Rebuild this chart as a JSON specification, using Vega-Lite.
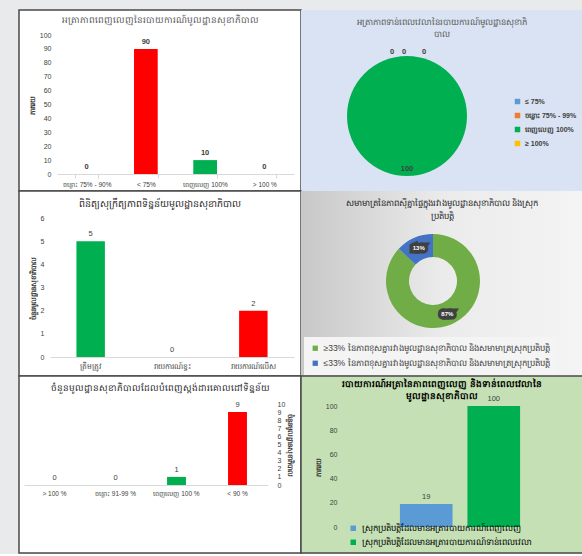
{
  "$schema": "https://vega.github.io/schema/vega-lite/v6.json",
  "background": "#e8eaec",
  "padding": {"left": 18, "top": 9, "right": 0, "bottom": 0},
  "autosize": {"type": "pad"},
  "config": {
    "view": {"stroke": "#4a4a4a", "strokeWidth": 1.5},
    "font": "Liberation Sans",
    "axis": {"labelFont": "Liberation Sans", "titleFont": "Liberation Sans", "labelColor": "#404040", "titleColor": "#404040", "grid": false, "labelFontSize": 7, "titleFontSize": 7},
    "title": {"font": "Liberation Sans", "anchor": "middle"},
    "legend": {"labelFont": "Liberation Sans"},
    "text": {"font": "Liberation Sans"}
  },
  "spacing": 0,
  "bounds": "flush",
  "columns": 2,
  "resolve": {"scale": {"color": "independent", "x": "independent", "y": "independent", "theta": "independent"}, "legend": {"color": "independent"}},
  "concat": [
        {
          "width": 282,
          "height": 181,
          "view": {"fill": "#ffffff"},
          "title": {"text": "អត្រាភាពពេញលេញនៃរបាយការណ៍មូលដ្ឋានសុខាភិបាល", "fontSize": 9, "fontWeight": "normal", "color": "#595959", "offset": -15},
          "data": {"values": [
            {"category": "ចន្លោះ 75% - 90%", "value": 0},
            {"category": "< 75%", "value": 90},
            {"category": "ពេញលេញ 100%", "value": 10},
            {"category": "> 100 %", "value": 0}
          ]},
          "encoding": {
            "x": {"field": "category", "type": "nominal", "sort": null,
              "scale": {"range": [38, 275], "paddingInner": 0.6, "paddingOuter": 0.3},
              "axis": {"title": null, "offset": -17, "labelAngle": 0, "domainColor": "#d9d9d9", "tickBand": "extent", "tickColor": "#d9d9d9", "tickSize": 4, "labelPadding": 3, "labelFontSize": 6.5}},
            "y": {"field": "value", "type": "quantitative",
              "scale": {"domain": [0, 100], "range": [164, 25]},
              "axis": {"title": "ភាគរយ", "offset": -38, "domain": false, "ticks": false, "labelPadding": 6, "tickCount": 10, "titlePadding": 4, "titleFontWeight": "bold"}}
          },
          "layer": [
            {"mark": {"type": "bar"},
             "encoding": {"color": {"field": "category", "type": "nominal",
               "scale": {"domain": ["ចន្លោះ 75% - 90%", "< 75%", "ពេញលេញ 100%", "> 100 %"], "range": ["#a5a5a5", "#ff0000", "#00b050", "#a5a5a5"]}, "legend": null}}},
            {"mark": {"type": "text", "dy": -7, "fontSize": 7.5, "fontWeight": "bold", "color": "#404040"},
             "encoding": {"text": {"field": "value", "type": "quantitative"}}}
          ]
        },
        {
          "width": 282,
          "height": 181,
          "view": {"fill": "#dae3f3"},
          "title": {"text": ["អត្រាភាពទាន់ពេលវេលានៃរបាយការណ៍មូលដ្ឋានសុខាភិ", "បាល"], "fontSize": 8.5, "fontWeight": "normal", "color": "#595959", "offset": -28, "lineHeight": 12},
          "data": {"values": [
            {"category": "≤ 75%", "value": 0},
            {"category": "ចន្លោះ 75% - 99%", "value": 0},
            {"category": "ពេញលេញ 100%", "value": 100},
            {"category": "≥ 100%", "value": 0}
          ]},
          "layer": [
            {"mark": {"type": "arc", "outerRadius": 60, "x": 106, "y": 106},
             "encoding": {
               "theta": {"field": "value", "type": "quantitative", "stack": true},
               "color": {"field": "category", "type": "nominal", "sort": null,
                 "scale": {"domain": ["≤ 75%", "ចន្លោះ 75% - 99%", "ពេញលេញ 100%", "≥ 100%"], "range": ["#5b9bd5", "#ed7d31", "#00b050", "#ffc000"]},
                 "legend": {"orient": "none", "legendX": 213, "legendY": 88, "title": null, "symbolType": "square", "symbolSize": 30, "labelFontSize": 7, "rowPadding": 6, "labelColor": "#404040", "labelFontWeight": "bold"}}
             }},
            {"transform": [{"filter": "datum.value > 0"}],
             "mark": {"type": "text", "x": 106, "y": 106, "radius": 53, "fontSize": 7.5, "fontWeight": "bold", "color": "#404040"},
             "encoding": {"theta": {"field": "value", "type": "quantitative", "stack": true}, "text": {"field": "value", "type": "quantitative"}}},
            {"transform": [{"filter": "datum.category === '≤ 75%'"}],
             "mark": {"type": "text", "x": 106, "y": 106, "radius": 64, "theta": 0, "dx": -15, "fontSize": 7.5, "fontWeight": "bold", "color": "#404040"},
             "encoding": {"text": {"field": "value", "type": "quantitative"}}},
            {"transform": [{"filter": "datum.category === 'ចន្លោះ 75% - 99%'"}],
             "mark": {"type": "text", "x": 106, "y": 106, "radius": 64, "theta": 0, "dx": -3, "fontSize": 7.5, "fontWeight": "bold", "color": "#404040"},
             "encoding": {"text": {"field": "value", "type": "quantitative"}}},
            {"transform": [{"filter": "datum.category === '≥ 100%'"}],
             "mark": {"type": "text", "x": 106, "y": 106, "radius": 64, "theta": 0, "dx": 17, "fontSize": 7.5, "fontWeight": "bold", "color": "#404040"},
             "encoding": {"text": {"field": "value", "type": "quantitative"}}}
          ]
        },
        {
          "width": 282,
          "height": 185,
          "view": {"fill": "#ffffff"},
          "title": {"text": "ពិនិត្យសុក្រឹត្យភាពទិន្នន័យមូលដ្ឋានសុខាភិបាល", "fontSize": 9.5, "fontWeight": "normal", "color": "#262626", "offset": -17},
          "data": {"values": [
            {"category": "ត្រឹមត្រូវ", "value": 5},
            {"category": "រាយការណ៍ខ្វះ", "value": 0},
            {"category": "រាយការណ៍លើស", "value": 2}
          ]},
          "encoding": {
            "x": {"field": "category", "type": "nominal", "sort": null,
              "scale": {"range": [31, 275], "paddingInner": 0.65, "paddingOuter": 0.325},
              "axis": {"title": null, "offset": -19, "labelAngle": 0, "domainColor": "#d9d9d9", "ticks": false, "labelPadding": 5, "labelFontSize": 7.5}},
            "y": {"field": "value", "type": "quantitative",
              "scale": {"domain": [0, 6], "range": [166, 27]},
              "axis": {"title": "ចំនួនមូលដ្ឋានសុខាភិបាល", "offset": -31, "domain": false, "ticks": false, "labelPadding": 6, "tickCount": 6, "titlePadding": 4, "titleFontWeight": "bold"}}
          },
          "layer": [
            {"mark": {"type": "bar"},
             "encoding": {"color": {"field": "category", "type": "nominal",
               "scale": {"domain": ["ត្រឹមត្រូវ", "រាយការណ៍ខ្វះ", "រាយការណ៍លើស"], "range": ["#00b050", "#a5a5a5", "#ff0000"]}, "legend": null}}},
            {"mark": {"type": "text", "dy": -7, "fontSize": 7.5, "color": "#404040"},
             "encoding": {"text": {"field": "value", "type": "quantitative"}}}
          ]
        },
        {
          "width": 282,
          "height": 185,
          "title": {"text": ["សមាមាត្រនៃភាពស៊ីគ្នាផ្ទៃក្នុងរវាងមូលដ្ឋានសុខាភិបាល និងស្រុក", "ប្រតិបត្តិ"], "fontSize": 8.5, "fontWeight": "normal", "color": "#262626", "offset": -29, "lineHeight": 13},
          "data": {"values": [
            {"category": "≥33% នៃភាពខុសគ្នារវាងមូលដ្ឋានសុខាភិបាល និងសមាមាត្រស្រុកប្រតិបត្តិ", "value": 0.87},
            {"category": "≤33% នៃភាពខុសគ្នារវាងមូលដ្ឋានសុខាភិបាល និងសមាមាត្រស្រុកប្រតិបត្តិ", "value": 0.13}
          ]},
          "layer": [
            {"mark": {"type": "rect", "color": {"gradient": "linear", "x1": 0, "x2": 1, "y1": 0, "y2": 0, "stops": [{"offset": 0, "color": "#c8c8c8"}, {"offset": 0.5, "color": "#ebebeb"}, {"offset": 1, "color": "#f4f4f4"}]}},
             "encoding": {}},
            {"mark": {"type": "arc", "outerRadius": 47, "innerRadius": 24, "x": 132, "y": 90},
             "encoding": {
               "theta": {"field": "value", "type": "quantitative", "stack": true},
               "order": {"field": "value", "sort": "descending"},
               "color": {"field": "category", "type": "nominal", "sort": null,
                 "scale": {"domain": ["≥33% នៃភាពខុសគ្នារវាងមូលដ្ឋានសុខាភិបាល និងសមាមាត្រស្រុកប្រតិបត្តិ", "≤33% នៃភាពខុសគ្នារវាងមូលដ្ឋានសុខាភិបាល និងសមាមាត្រស្រុកប្រតិបត្តិ"], "range": ["#70ad47", "#4472c4"]},
                 "legend": {"orient": "none", "legendX": 3, "legendY": 146, "title": null, "symbolType": "square", "symbolSize": 28, "labelFontSize": 8.5, "labelLimit": 320, "rowPadding": 6, "padding": 7, "fillColor": "#f4f4f4", "labelColor": "#404040"}}
             }},
            {"mark": {"type": "text", "x": 132, "y": 90, "radius": 36, "fontSize": 6, "fontWeight": "bold", "color": "#404040", "stroke": "#404040", "strokeWidth": 7, "strokeJoin": "miter"},
             "encoding": {
               "theta": {"field": "value", "type": "quantitative", "stack": true},
               "order": {"field": "value", "sort": "descending"},
               "text": {"field": "value", "type": "quantitative", "format": ".0%"}}},
            {"mark": {"type": "text", "x": 132, "y": 90, "radius": 36, "fontSize": 6, "fontWeight": "bold", "color": "#ffffff"},
             "encoding": {
               "theta": {"field": "value", "type": "quantitative", "stack": true},
               "order": {"field": "value", "sort": "descending"},
               "text": {"field": "value", "type": "quantitative", "format": ".0%"}}}
          ]
        },
        {
          "width": 282,
          "height": 177,
          "view": {"fill": "#ffffff"},
          "title": {"text": "ចំនួនមូលដ្ឋានសុខាភិបាលដែលបំពេញស្តង់ដារគោលដៅទិន្នន័យ", "fontSize": 9, "fontWeight": "normal", "color": "#262626", "offset": -17},
          "data": {"values": [
            {"category": "> 100 %", "value": 0},
            {"category": "ចន្លោះ 91-99 %", "value": 0},
            {"category": "ពេញលេញ 100 %", "value": 1},
            {"category": "< 90 %", "value": 9}
          ]},
          "encoding": {
            "x": {"field": "category", "type": "nominal", "sort": null,
              "scale": {"range": [5, 249], "paddingInner": 0.69, "paddingOuter": 0.345},
              "axis": {"title": null, "offset": -68, "labelAngle": 0, "domainColor": "#d9d9d9", "ticks": false, "labelPadding": 5, "labelFontSize": 6.5}},
            "y": {"field": "value", "type": "quantitative",
              "scale": {"domain": [0, 10], "range": [109, 28]},
              "axis": {"orient": "right", "title": "ចំនួនមូលដ្ឋានសុខាភិបាល", "offset": -27, "domain": false, "ticks": false, "labelPadding": 3, "tickCount": 10, "titlePadding": 2, "titleFontWeight": "bold", "labelFontSize": 7}}
          },
          "layer": [
            {"mark": {"type": "bar"},
             "encoding": {"color": {"field": "category", "type": "nominal",
               "scale": {"domain": ["> 100 %", "ចន្លោះ 91-99 %", "ពេញលេញ 100 %", "< 90 %"], "range": ["#a5a5a5", "#a5a5a5", "#00b050", "#ff0000"]}, "legend": null}}},
            {"mark": {"type": "text", "dy": -7, "fontSize": 7.5, "color": "#404040"},
             "encoding": {"text": {"field": "value", "type": "quantitative"}}}
          ]
        },
        {
          "width": 282,
          "height": 177,
          "view": {"fill": "#c5e0b4"},
          "title": {"text": ["របាយការណ៍អត្រានៃភាពពេញលេញ និងទាន់ពេលវេលានៃ", "មូលដ្ឋានសុខាភិបាល"], "fontSize": 9, "fontWeight": "bold", "color": "#000000", "offset": -25, "lineHeight": 12},
          "data": {"values": [
            {"series": "ស្រុកប្រតិបត្តិដែលមានអត្រារបាយការណ៍ពេញលេញ", "value": 19},
            {"series": "ស្រុកប្រតិបត្តិដែលមានអត្រារបាយការណ៍ទាន់ពេលវេលា", "value": 100}
          ]},
          "encoding": {
            "x": {"field": "series", "type": "nominal", "sort": null,
              "scale": {"range": [91.5, 226.5], "paddingInner": 0.22, "paddingOuter": 0.11},
              "axis": null},
            "y": {"field": "value", "type": "quantitative",
              "scale": {"domain": [0, 100], "range": [151, 30]},
              "axis": {"title": "ភាគរយ", "offset": -42, "domain": false, "ticks": false, "labelPadding": 6, "values": [0, 20, 40, 60, 80, 100], "titlePadding": 4, "titleFontWeight": "bold"}}
          },
          "layer": [
            {"mark": {"type": "bar"},
             "encoding": {"color": {"field": "series", "type": "nominal", "sort": null,
               "scale": {"domain": ["ស្រុកប្រតិបត្តិដែលមានអត្រារបាយការណ៍ពេញលេញ", "ស្រុកប្រតិបត្តិដែលមានអត្រារបាយការណ៍ទាន់ពេលវេលា"], "range": ["#5b9bd5", "#00b050"]},
               "legend": {"orient": "none", "legendX": 48, "legendY": 148, "title": null, "symbolType": "square", "symbolSize": 30, "labelFontSize": 8.5, "labelLimit": 300, "rowPadding": 5, "labelColor": "#000000"}}}},
            {"mark": {"type": "text", "dy": -7, "fontSize": 7.5, "color": "#404040"},
             "encoding": {"text": {"field": "value", "type": "quantitative"}}}
          ]
        }
  ]
}
